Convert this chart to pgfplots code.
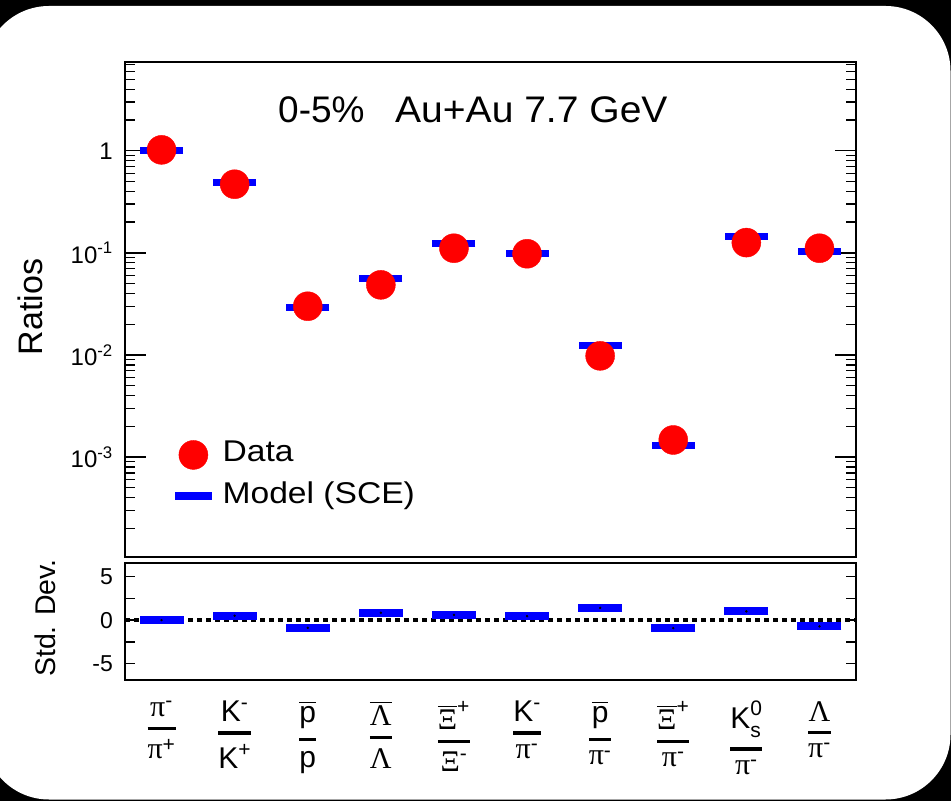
\documentclass[border=0pt]{standalone}
\usepackage{pgfplots}
\pgfplotsset{compat=1.18}
\usepackage{pgfplotstable}
\usepackage{graphicx}
\usepackage{amsmath}
\usepackage{fontspec}
\setmainfont{Liberation Sans}
\newfontfamily\grk{Liberation Serif}

% particle-ratio labels: Greek letters in a serif face, Latin in sans
\newcommand{\G}[1]{\text{\grk #1}}
\newcommand{\T}[1]{\text{#1}}
\newcommand{\fr}[2]{\genfrac{}{}{3.2pt}{0}{#1}{#2}}

% idx: ratio index; data: measured; model: SCE fit; dev: (data-model)/sigma
\pgfplotstableread{
idx data    model   dev
0   1.02    1.0     0.0
1   0.47    0.485   0.5
2   0.030   0.0291  -0.9
3   0.0486  0.0556  0.85
4   0.111   0.124   0.6
5   0.098   0.099   0.45
6   0.0098  0.0123  1.4
7   0.00147 0.00129 -0.92
8   0.126   0.144   1.0
9   0.111   0.103   -0.72
}\ratios

\begin{document}
\begin{tikzpicture}
\useasboundingbox (0,0) rectangle (951pt,801pt);
\fill[black] (0,0) rectangle (951pt,801pt);
\fill[white, rounded corners=65pt] (-16pt,1.5pt) rectangle (950.5pt,795pt);

\pgfplotsset{
  rootframe/.style={
    scale only axis, width=731pt, xmin=-0.5, xmax=9.5,
    axis line style={line width=1.6pt},
    tick style={black, line width=1.4pt},
    tick align=inside,
    minor tick length=10pt,
    xtick=\empty, minor xtick={0.5,1.5,...,8.5},
    yticklabel style={inner sep=0pt, xshift=-12pt},
  }
}

% upper panel: ratios on a log scale
\begin{axis}[rootframe, at={(125pt,244pt)}, anchor=south west, height=495pt,
  ymode=log, ymin=1.05e-4, ymax=7.4,
  major tick length=21pt,
  ytick={0.001,0.01,0.1,1},
  yticklabels={10\textsuperscript{-3},10\textsuperscript{-2},10\textsuperscript{-1},1},
  minor ytick={2e-4,3e-4,4e-4,5e-4,6e-4,7e-4,8e-4,9e-4,
               2e-3,3e-3,4e-3,5e-3,6e-3,7e-3,8e-3,9e-3,
               2e-2,3e-2,4e-2,5e-2,6e-2,7e-2,8e-2,9e-2,
               0.2,0.3,0.4,0.5,0.6,0.7,0.8,0.9,2,3,4,5,6,7},
  tick label style={font=\fontsize{24}{24}\selectfont},
  legend style={at={(0.0684,0.2363)}, anchor=north west, draw=none, fill=none,
    inner sep=0pt, row sep=13.5pt, column sep=11pt,
    nodes={inner sep=0pt, text height=20pt, text depth=6pt},
    font=\fontsize{30}{30}\selectfont},
  legend cell align=left,
]
\addplot[only marks, mark=-, mark size=21.5pt, mark options={line width=7pt, blue}, forget plot]
  table[x=idx, y=model] {\ratios};
\addplot[only marks, mark=*, mark size=14.5pt, mark options={fill=red, draw=red}, forget plot]
  table[x=idx, y=data] {\ratios};
\addlegendimage{legend image code/.code={\fill[red] (18pt,0pt) circle (14.5pt);}}
\addlegendentry{\scalebox{1.12}[1]{Data}}
\addlegendimage{legend image code/.code={\fill[blue] (0pt,-3.5pt) rectangle (36pt,3.5pt);}}
\addlegendentry{\scalebox{1.12}[1]{Model (SCE)}}
\end{axis}

% lower panel: deviation in standard deviations
\begin{axis}[rootframe, at={(125pt,121pt)}, anchor=south west, height=117pt,
  ymin=-6.87, ymax=6.55,
  major tick length=10pt,
  ytick={-5,0,5}, yticklabels={-5,0,5}, minor ytick={-2.5,2.5},
  tick label style={font=\fontsize{23}{23}\selectfont},
  extra x ticks={0,1,2,3,4,5,6,7,8,9},
  extra x tick labels={
    $\fr{\G{π}^{\T{-}}}{\G{π}^{\T{+}}}$,
    $\fr{\T{K}^{\T{-}}}{\T{K}^{\T{+}}}$,
    $\fr{\overline{\T{p}}}{\T{p}}$,
    $\fr{\overline{\G{Λ}}}{\G{Λ}}$,
    $\fr{\overline{\G{Ξ}}^{\T{+}}}{\G{Ξ}^{\T{-}}}$,
    $\fr{\T{K}^{\T{-}}}{\G{π}^{\T{-}}}$,
    $\fr{\overline{\T{p}}}{\G{π}^{\T{-}}}$,
    $\fr{\overline{\G{Ξ}}^{\T{+}}}{\G{π}^{\T{-}}}$,
    $\fr{\T{K}^{\T{0}}_{\T{\raisebox{-3pt}{s}}}}{\G{π}^{\T{-}}}$,
    $\fr{\G{Λ}}{\G{π}^{\T{-}}}$},
  extra x tick style={major tick length=0pt, tick style={draw=none},
    xticklabel style={anchor=north, inner sep=0pt, yshift=-21pt,
      font=\fontsize{30}{30}\selectfont}},
]
\addplot[only marks, mark=-, mark size=22pt, mark options={line width=8pt, blue}]
  table[x=idx, y=dev] {\ratios};
\addplot[black, line width=3.5pt, dash pattern=on 4.5pt off 4.5pt] coordinates {(-0.5,0) (9.5,0)};
\addplot[only marks, mark=*, mark size=1pt, black] table[x=idx, y=dev] {\ratios};
\end{axis}

\node[rotate=90, font=\fontsize{34}{34}\selectfont] at (30pt,494pt) {Ratios};
\node[rotate=90, font=\fontsize{28.5}{28.5}\selectfont] at (45pt,183pt) {Std. Dev.};
\node[anchor=base west, inner sep=0pt, font=\fontsize{37}{37}\selectfont] at (278pt,678pt) {0-5\%};
\node[anchor=base west, inner sep=0pt, font=\fontsize{37}{37}\selectfont] at (395pt,678pt) {\scalebox{1.055}[1]{Au+Au 7.7 GeV}};
\end{tikzpicture}
\end{document}
